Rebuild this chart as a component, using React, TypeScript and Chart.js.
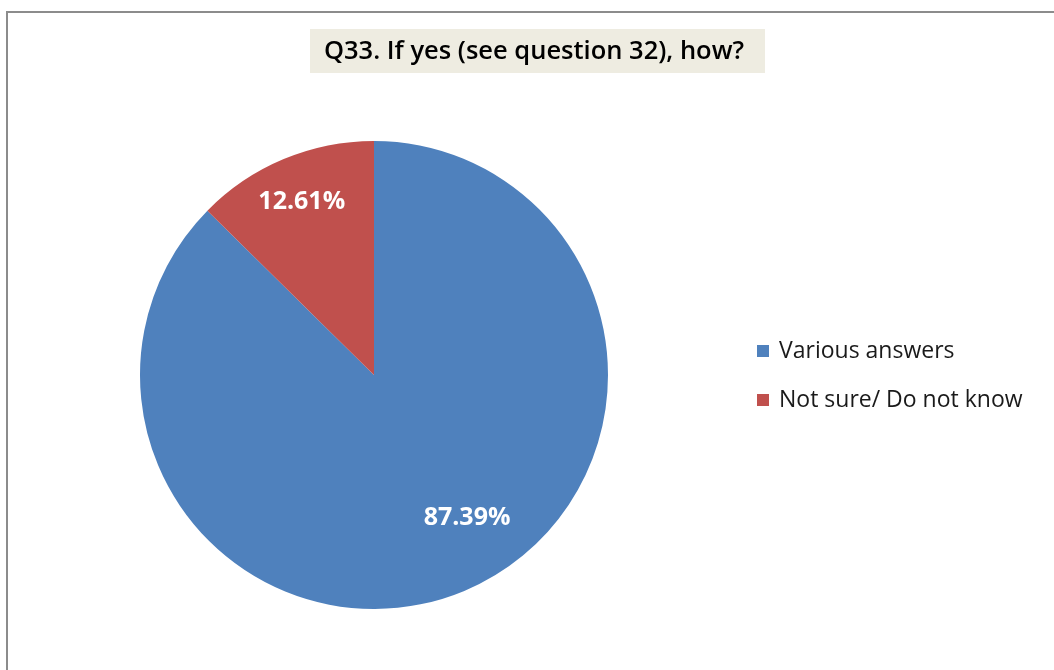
import React, { useEffect, useRef } from "react";
import { Chart, registerables } from "chart.js";

Chart.register(...registerables);

const title = "Q33. If yes (see question 32), how?";
const categories = ["Various answers", "Not sure/ Do not know"];
const values = [87.39, 12.61];
const colors = ["#4F81BD", "#C0504D"];

const FONT = "'Open Sans', Lato, sans-serif";

const framePlugin = {
  id: "frame",
  beforeDraw(chart: any) {
    const ctx = chart.ctx;
    ctx.save();
    ctx.fillStyle = "#ffffff";
    ctx.fillRect(0, 0, chart.width, chart.height);
    ctx.strokeStyle = "#8c8c8c";
    ctx.lineWidth = 2;
    ctx.strokeRect(7, 12, chart.width + 20, chart.height + 20);
    // title
    ctx.fillStyle = "#eeece1";
    ctx.fillRect(310, 29, 455, 44);
    ctx.fillStyle = "#000000";
    ctx.font = `600 25.5px ${FONT}`;
    ctx.textAlign = "center";
    ctx.textBaseline = "middle";
    ctx.fillText(title, 534, 52);
    // legend
    ctx.font = `400 23px ${FONT}`;
    ctx.textAlign = "left";
    categories.forEach((c, i) => {
      const y = 351 + i * 49;
      ctx.fillStyle = colors[i];
      ctx.fillRect(757, y - 6, 12, 12);
      ctx.fillStyle = "#1a1a1a";
      ctx.fillText(c, 779, y);
    });
    ctx.restore();
  },
};

const labelRadius = [0.73, 0.8];
const labelAngleShift = [-0.18, 0];

const labelPlugin = {
  id: "sliceLabels",
  afterDatasetsDraw(chart: any) {
    const ctx = chart.ctx;
    const meta = chart.getDatasetMeta(0);
    ctx.save();
    ctx.fillStyle = "#ffffff";
    ctx.font = `700 25px ${FONT}`;
    ctx.textAlign = "center";
    ctx.textBaseline = "middle";
    meta.data.forEach((arc: any, i: number) => {
      const p = arc.getProps(["x", "y", "startAngle", "endAngle", "outerRadius"], true);
      const mid = (p.startAngle + p.endAngle) / 2 + labelAngleShift[i];
      const r = p.outerRadius * labelRadius[i];
      const x = p.x + Math.cos(mid) * r;
      const y = p.y + Math.sin(mid) * r;
      ctx.fillText(values[i].toFixed(2) + "%", x, y);
    });
    ctx.restore();
  },
};

export default function App() {
  const ref = useRef<HTMLCanvasElement>(null);
  useEffect(() => {
    const chart = new Chart(ref.current!, {
      type: "pie",
      data: {
        labels: categories,
        datasets: [
          {
            data: values,
            backgroundColor: colors,
            borderWidth: 0,
          },
        ],
      },
      options: {
        responsive: false,
        animation: false,
        devicePixelRatio: 1,
        layout: { padding: { left: 140, right: 446, top: 141, bottom: 61 } },
        plugins: {
          legend: { display: false },
          title: { display: false },
          tooltip: { enabled: false },
        },
      },
      plugins: [framePlugin, labelPlugin],
    });
    return () => chart.destroy();
  }, []);
  return (
    <div style={{ position: "absolute", left: 0, top: 0, width: 1054, height: 670 }}>
      <canvas ref={ref} width={1054} height={670} />
    </div>
  );
}
